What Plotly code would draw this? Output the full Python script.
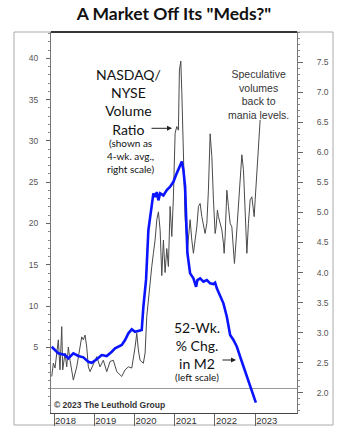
import plotly.graph_objects as go

# ---- data (decimal years) ----
m2_year = [2017.943, 2018.107, 2018.274, 2018.356, 2018.480, 2018.606, 2018.729, 2018.853,
           2018.936, 2019.062, 2019.186, 2019.311, 2019.435, 2019.517, 2019.684, 2019.766,
           2019.848, 2019.933, 2020.015, 2020.139, 2020.180, 2020.221, 2020.288, 2020.346,
           2020.430, 2020.470, 2020.512, 2020.555, 2020.595, 2020.637, 2020.719, 2020.803,
           2020.886, 2020.968, 2021.052, 2021.135, 2021.177, 2021.216, 2021.259, 2021.284,
           2021.316, 2021.383, 2021.465, 2021.532, 2021.565, 2021.632, 2021.714, 2021.799,
           2021.881, 2021.963, 2022.005, 2022.047, 2022.129, 2022.211, 2022.296, 2022.378,
           2022.460, 2022.545, 2022.627, 2022.709, 2022.794, 2022.876, 2022.958, 2023.017]
m2_pct = [5.07, 4.27, 4.07, 3.67, 4.27, 3.95, 3.79, 3.26,
          3.14, 3.55, 4.07, 3.95, 4.47, 4.88, 5.28, 5.89,
          6.70, 7.18, 6.89, 7.01, 7.10, 9.9, 13.2, 19.2,
          22.4, 23.65, 23.2, 23.8, 22.8, 23.65, 23.4, 24.05,
          24.45, 25.05, 26.1, 26.9, 27.5, 26.5, 24.45, 20.8,
          16.4, 13.96, 13.36, 12.34, 13.15, 13.36, 12.95, 13.15,
          12.75, 12.67, 12.83, 12.15, 11.34, 10.33, 8.71, 6.49,
          5.89, 5.07, 3.86, 2.65, 1.44, 0.23, -0.98, -1.7]

ratio_year = [2017.943, 2017.983, 2018.025, 2018.067, 2018.107, 2018.149, 2018.192, 2018.216,
              2018.274, 2018.316, 2018.356, 2018.398, 2018.440, 2018.480, 2018.565, 2018.647,
              2018.689, 2018.729, 2018.771, 2018.813, 2018.853, 2018.896, 2018.978, 2019.062,
              2019.144, 2019.226, 2019.311, 2019.393, 2019.475, 2019.560, 2019.684, 2019.766,
              2019.848, 2019.933, 2020.015, 2020.057, 2020.097, 2020.139, 2020.221, 2020.264,
              2020.306, 2020.371, 2020.430, 2020.470, 2020.512, 2020.555, 2020.595, 2020.637,
              2020.679, 2020.719, 2020.761, 2020.803, 2020.843, 2020.886, 2020.928, 2020.968,
              2021.010, 2021.052, 2021.092, 2021.117, 2021.152, 2021.177, 2021.226, 2021.245,
              2021.259, 2021.316, 2021.383, 2021.425, 2021.465, 2021.507, 2021.550, 2021.590,
              2021.632, 2021.674, 2021.714, 2021.756, 2021.799, 2021.838, 2021.881, 2021.923,
              2021.963, 2022.005, 2022.030, 2022.062, 2022.087, 2022.129, 2022.172, 2022.211,
              2022.229, 2022.254, 2022.296, 2022.336, 2022.378, 2022.420, 2022.460, 2022.485,
              2022.527, 2022.585, 2022.627, 2022.669, 2022.709, 2022.751, 2022.776, 2022.794,
              2022.833, 2022.876, 2022.918, 2022.943, 2022.975, 2023.000, 2023.042, 2023.082,
              2023.124]
ratio_val = [2.27, 2.49, 2.41, 2.71, 2.88, 2.38, 3.10, 2.38,
             2.66, 2.43, 2.76, 2.54, 2.38, 2.21, 2.43, 2.76,
             2.93, 2.88, 2.96, 2.76, 2.43, 2.35, 2.49, 2.60,
             2.43, 2.54, 2.35, 2.52, 2.54, 2.35, 2.27, 2.38,
             2.43, 2.41, 2.76, 2.99, 2.71, 2.54, 2.49, 2.66,
             3.27, 3.77, 4.10, 4.32, 4.54, 4.88, 5.01, 4.71,
             3.95, 4.54, 4.00, 4.40, 4.10, 5.10, 4.60, 5.26,
             6.32, 6.43, 6.37, 7.37, 7.52, 7.00, 5.83, 5.04,
             4.90, 4.38, 4.88, 4.54, 4.32, 4.54, 4.76, 5.10,
             5.15, 4.93, 4.76, 4.65, 4.82, 5.37, 6.31, 5.93,
             5.21, 4.65, 4.76, 5.04, 4.93, 4.82, 4.71, 4.49,
             4.32, 4.60, 5.37, 5.10, 4.82, 4.76, 4.32, 4.15,
             4.54, 5.15, 5.65, 5.96, 5.71, 4.93, 4.43, 4.32,
             4.82, 5.21, 5.26, 5.15, 4.93, 5.21, 5.65, 6.21,
             6.54]

year_ticks = [2018, 2019, 2020, 2021, 2022, 2023]
year_labels = ["2018", "2019", "2020", "2021", "2022", "2023"]
left_ticks = [5, 10, 15, 20, 25, 30, 35, 40]
right_ticks = [2.0, 2.5, 3.0, 3.5, 4.0, 4.5, 5.0, 5.5, 6.0, 6.5, 7.0, 7.5]
right_labels = [f"{v:.1f}" for v in right_ticks]

TXT = "Liberation Sans, Arial, sans-serif"
GEO = "Lato, sans-serif"

fig = go.Figure()
fig.add_trace(go.Scatter(x=ratio_year, y=ratio_val, mode="lines", yaxis="y",
                         line=dict(color="#4a4a4a", width=1), showlegend=False))
fig.add_trace(go.Scatter(x=m2_year, y=m2_pct, mode="lines", yaxis="y2",
                         line=dict(color="#0a14ff", width=2.6), showlegend=False))

fig.update_layout(
    width=350, height=441,
    margin=dict(l=51, r=53, t=32, b=28),
    paper_bgcolor="white", plot_bgcolor="white",
    title=dict(text="<b>A Market Off Its \"Meds?\"</b>", x=0.5, xref="paper",
               y=1 - 14 / 441, yanchor="middle", xanchor="center",
               font=dict(family=GEO, size=17.5, color="#111")),
    xaxis=dict(range=[2017.925, 2024.04], tickmode="array", tickvals=year_ticks,
               ticktext=year_labels, ticks="outside", ticklen=12, tickcolor="#666",
               showline=True, linecolor="#444", linewidth=1, showgrid=False,
               zeroline=False, ticklabelposition="outside right", ticklabelstandoff=-1,
               tickfont=dict(family=TXT, size=9.5, color="#333")),
    yaxis=dict(side="right", range=[1.662, 8.004], tickmode="array",
               tickvals=right_ticks, ticktext=right_labels, ticks="outside",
               ticklen=5, tickcolor="#666", showline=True, linecolor="#777",
               showgrid=False, zeroline=False, ticklabelstandoff=12,
               minor=dict(tickmode="linear", tick0=0, dtick=0.1, ticks="outside",
                          ticklen=2, tickcolor="#888"),
               tickfont=dict(family=TXT, size=8.5, color="#555")),
    yaxis2=dict(side="left", overlaying="y", range=[-2.95, 43.19], tickmode="array",
                tickvals=left_ticks, ticks="outside", ticklen=4, tickcolor="#666",
                showline=True, linecolor="#777", showgrid=False,
                zeroline=True, zerolinecolor="#999", zerolinewidth=1,
                ticklabelstandoff=6,
                minor=dict(tickmode="linear", tick0=0, dtick=1, ticks="outside",
                           ticklen=2, tickcolor="#888"),
                tickfont=dict(family=TXT, size=8.5, color="#555")),
)

# frame and top border
fig.add_shape(type="rect", xref="paper", yref="paper",
              x0=(14 - 51) / 246, x1=(333 - 51) / 246, y0=(413 - 425) / 381, y1=1,
              line=dict(color="#aaaaaa", width=1), layer="below")
fig.add_shape(type="line", xref="paper", yref="paper", x0=0, x1=1, y0=1, y1=1,
              line=dict(color="#000", width=1.5))

ann = [
    dict(text="NASDAQ/<br>NYSE<br>Volume<br>Ratio", x=(128 - 51) / 246, y=(413 - 64) / 381,
         yanchor="top", font=dict(family=GEO, size=14, color="#111")),
    dict(text="(shown as<br>4-wk. avg.,<br>right scale)", x=(130 - 51) / 246,
         y=(413 - 134.5) / 381, yanchor="top", font=dict(family=GEO, size=10, color="#111")),
    dict(text="Speculative<br>volumes<br>back to<br>mania levels.", x=(258 - 51) / 246,
         y=(413 - 66) / 381, yanchor="top", font=dict(family=TXT, size=10.5, color="#333")),
    dict(text="52-Wk.<br>% Chg.<br>in M2", x=(196.5 - 51) / 246, y=(413 - 317) / 381,
         yanchor="top", font=dict(family=GEO, size=14, color="#111")),
    dict(text="(left scale)", x=(196.5 - 51) / 246, y=(413 - 377) / 381, yanchor="middle",
         font=dict(family=GEO, size=10, color="#111")),
    dict(text="<b>© 2023 The Leuthold Group</b>", x=0.004, y=(413 - 405) / 381,
         xanchor="left", yanchor="middle", font=dict(family=TXT, size=8.5, color="#333")),
]
for a in ann:
    a.setdefault("xanchor", "center")
    fig.add_annotation(xref="paper", yref="paper", showarrow=False, **a)

fig.add_annotation(xref="paper", yref="paper", x=(172 - 51) / 246, y=(413 - 128.3) / 381,
                   text="", showarrow=True, ax=-22, ay=0, arrowhead=2, arrowsize=1,
                   arrowwidth=1, arrowcolor="#222")
fig.add_annotation(xref="paper", yref="paper", x=(236 - 51) / 246, y=(413 - 360) / 381,
                   text="", showarrow=True, ax=-15, ay=0, arrowhead=2, arrowsize=1,
                   arrowwidth=1, arrowcolor="#222")

fig.write_html("out.html")
